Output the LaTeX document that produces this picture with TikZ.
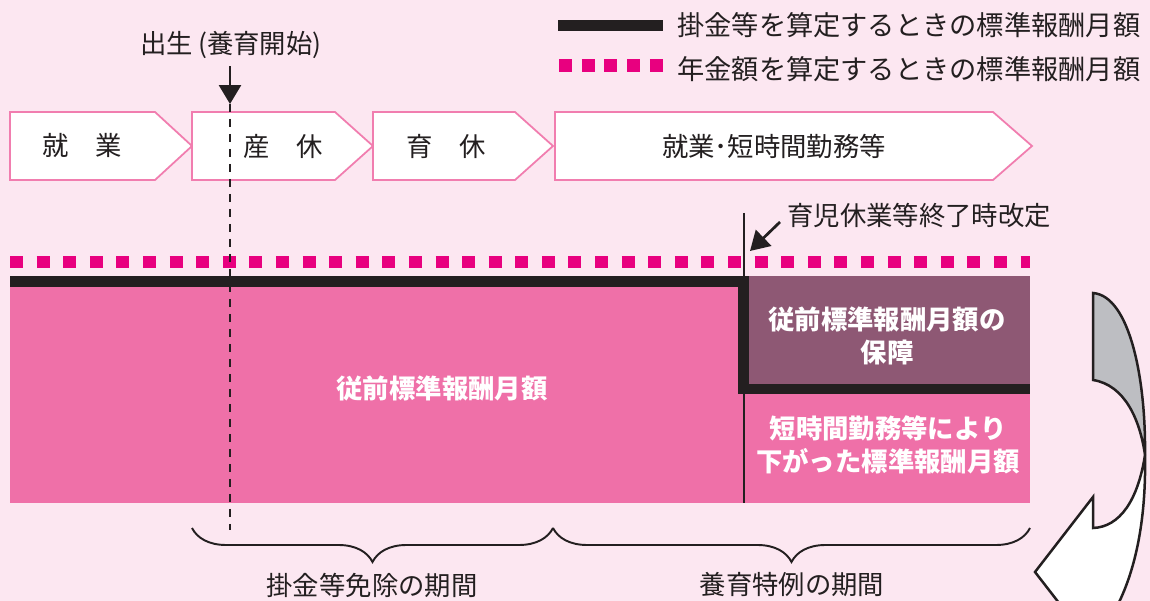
\documentclass[tikz,border=0pt]{standalone}
\usepackage{fontspec}
\setmainfont{Noto Sans CJK JP}
\usetikzlibrary{arrows.meta,decorations.pathreplacing}

\definecolor{bgpink}{HTML}{FCE7F1}
\definecolor{barpink}{HTML}{EF70A8}
\definecolor{mauve}{HTML}{8E5874}
\definecolor{dotpink}{HTML}{E8007F}
\definecolor{edgepink}{HTML}{F17DAF}
\definecolor{ink}{HTML}{231F20}
\definecolor{flapgray}{HTML}{BDBEC2}

\tikzset{
  txt/.style={text=ink, font=\fontsize{15}{18}\selectfont, inner sep=0pt},
  boldtxt/.style={text=white, font=\fontsize{15}{18.5}\selectfont\bfseries, align=center, inner sep=0pt},
  stage/.style={draw=edgepink, fill=white, line width=1pt},
  dotline/.style={dotpink, line width=0.26cm, dash pattern=on 0.26cm off 0.272cm},
  pointer/.style={ink, line width=0.055cm, -{Triangle[length=0.38cm,width=0.44cm]}},
  periodbrace/.style={decorate, decoration={brace, mirror, amplitude=0.68cm}, ink, line width=1.1pt},
}

\begin{document}
\begin{tikzpicture}[x=0.02cm, y=-0.02cm]
\useasboundingbox (0,0) rectangle (1150,601);
\clip (0,0) rectangle (1150,601);
\fill[bgpink] (0,0) rectangle (1150,601);

% legend
\draw[ink, line width=0.22cm] (558,25.5) -- (663,25.5);
\node[txt, anchor=west, font=\fontsize{15.5}{18}\selectfont] (legendpay) at (677,25) {掛金等を算定するときの標準報酬月額};
\draw[dotpink, line width=0.26cm, dash pattern=on 0.26cm off 0.195cm] (559,66) -- (663,66);
\node[txt, anchor=west, font=\fontsize{15.5}{18}\selectfont] (legendpension) at (677,69) {年金額を算定するときの標準報酬月額};

% stages
\draw[stage] (10,112) -- (155,112) -- (192,146) -- (155,180) -- (10,180) -- cycle;
\node[txt] (work) at (82,146) {就　業};

\draw[stage] (192,112) -- (335,112) -- (373,146) -- (335,180) -- (192,180) -- cycle;
\node[txt] (maternity) at (283,146) {産　休};

\draw[stage] (373,112) -- (515,112) -- (553,146) -- (515,180) -- (373,180) -- cycle;
\node[txt] (childcare) at (446,146) {育　休};

\draw[stage] (555,112) -- (993,112) -- (1032,146) -- (993,180) -- (555,180) -- cycle;
\node[txt] (shortwork) at (774,146) {就業･短時間勤務等};

% birth
\node[txt] (birth) at (231,45) {出生\hspace{0.2em}(養育開始)};
\coordinate (birthtip) at (230,104);
\draw[pointer] ([yshift=-0.14cm]birth.south -| birthtip) -- (birthtip);

% bars
\fill[barpink] (10,276) rectangle (1030,503);
\fill[mauve] (744,276) rectangle (1030,389);
\draw[ink, line width=0.22cm] (10,281.5) -- (743.5,281.5) -- (743.5,389) -- (1030,389);
\draw[dotline] (10,262) -- (1030,262);

\draw[ink, line width=0.04cm, dash pattern=on 0.16cm off 0.14cm] (birthtip) -- (230,530);

% revision
\node[txt, anchor=west] (revise) at (787,215) {育児休業等終了時改定};
\coordinate (revisetip) at (750,251);
\draw[ink, line width=0.04cm] (744,213) -- (744,503);
\draw[pointer] ([xshift=-0.14cm,yshift=-0.14cm]revise.west) -- (revisetip);

\node[boldtxt] (before) at (442,388) {従前標準報酬月額};
\node[boldtxt] (keep) at (887,336) {従前標準報酬月額の\\保障};
\node[boldtxt] (reduced) at (888,445) {短時間勤務等により\\下がった標準報酬月額};

% periods
\draw[periodbrace] (192,528) -- (553,528);
\draw[periodbrace] (553,528) -- (1030,528);
\node[txt] (exempt) at (372,585) {掛金等免除の期間};
\node[txt] (special) at (792,585) {養育特例の期間};

% turning arrow
\filldraw[fill=flapgray, draw=ink, line width=0.05cm] (1093,293) -- (1093,380)
  .. controls (1125,385) and (1140,420) .. (1145,455)
  .. controls (1146,380) and (1130,296) .. (1093,293) -- cycle;
\filldraw[fill=white, draw=ink, line width=0.05cm] (1145,455)
  .. controls (1138,500) and (1120,527) .. (1093,528)
  -- (1093,497) -- (1035,572) -- (1066,612) -- (1114,612)
  .. controls (1140,565) and (1146,505) .. (1145,455) -- cycle;
\end{tikzpicture}
\end{document}
